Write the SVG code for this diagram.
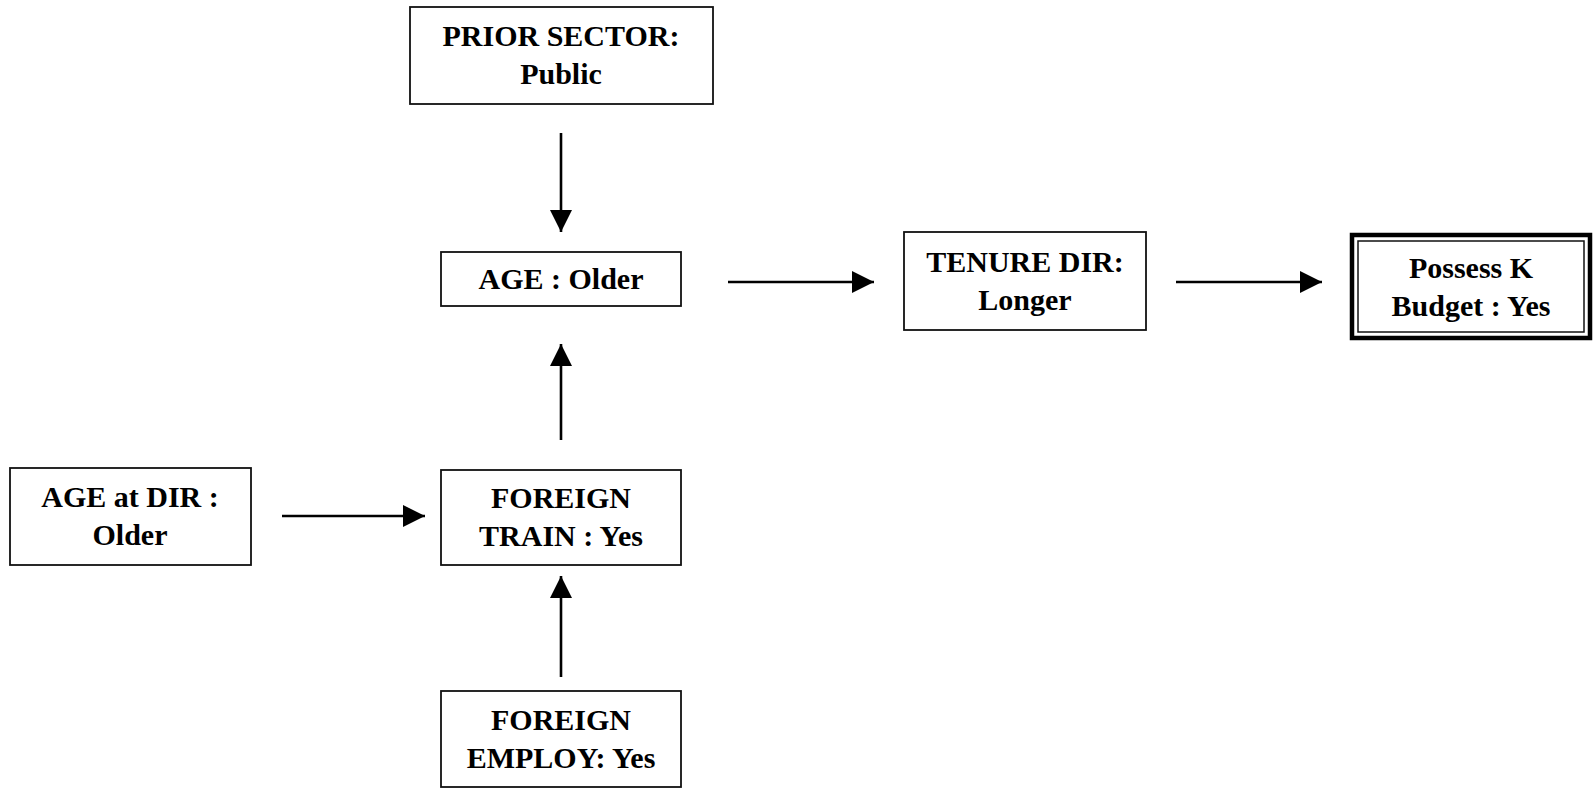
<svg xmlns="http://www.w3.org/2000/svg" width="1594" height="788" viewBox="0 0 1594 788">
  <style>
    .box { fill: #ffffff; stroke: #111111; stroke-width: 1.8; }
    .outer { fill: #ffffff; stroke: #000000; stroke-width: 4.5; }
    .inner { fill: none; stroke: #111111; stroke-width: 1.5; }
    .label { font-family: "Liberation Serif", "Times New Roman", serif; font-weight: bold; font-size: 30px; fill: #000000; text-anchor: middle; }
    .edge { stroke: #000000; stroke-width: 2.6; fill: none; marker-end: url(#head); }
  </style>
  <defs>
    <marker id="head" viewBox="0 0 10 10" refX="10" refY="5" markerUnits="userSpaceOnUse" markerWidth="24" markerHeight="22" orient="auto">
      <path d="M0,0 L10,5 L0,10 Z" fill="#000000"/>
    </marker>
  </defs>

  <rect width="1594" height="788" fill="#ffffff"/>

  <g id="prior-sector">
    <rect class="box" x="410" y="7" width="303" height="97"/>
    <text class="label" x="561" y="46">PRIOR SECTOR:</text>
    <text class="label" x="561" y="84">Public</text>
  </g>

  <g id="age">
    <rect class="box" x="441" y="252" width="240" height="54"/>
    <text class="label" x="561" y="289">AGE : Older</text>
  </g>

  <g id="tenure-dir">
    <rect class="box" x="904" y="232" width="242" height="98"/>
    <text class="label" x="1025" y="272">TENURE DIR:</text>
    <text class="label" x="1025" y="310">Longer</text>
  </g>

  <g id="possess-k-budget">
    <rect class="outer" x="1352" y="235" width="238" height="103"/>
    <rect class="inner" x="1358" y="241" width="226" height="91"/>
    <text class="label" x="1471" y="278">Possess K</text>
    <text class="label" x="1471" y="316">Budget : Yes</text>
  </g>

  <g id="age-at-dir">
    <rect class="box" x="10" y="468" width="241" height="97"/>
    <text class="label" x="130" y="507">AGE at DIR :</text>
    <text class="label" x="130" y="545">Older</text>
  </g>

  <g id="foreign-train">
    <rect class="box" x="441" y="470" width="240" height="95"/>
    <text class="label" x="561" y="508">FOREIGN</text>
    <text class="label" x="561" y="546">TRAIN : Yes</text>
  </g>

  <g id="foreign-employ">
    <rect class="box" x="441" y="691" width="240" height="96"/>
    <text class="label" x="561" y="730">FOREIGN</text>
    <text class="label" x="561" y="768">EMPLOY: Yes</text>
  </g>

  <g id="connectors">
    <line class="edge" x1="561" y1="133" x2="561" y2="232"/>
    <line class="edge" x1="561" y1="440" x2="561" y2="344"/>
    <line class="edge" x1="561" y1="677" x2="561" y2="576"/>
    <line class="edge" x1="728" y1="282" x2="874" y2="282"/>
    <line class="edge" x1="1176" y1="282" x2="1322" y2="282"/>
    <line class="edge" x1="282" y1="516" x2="425" y2="516"/>
  </g>
</svg>
